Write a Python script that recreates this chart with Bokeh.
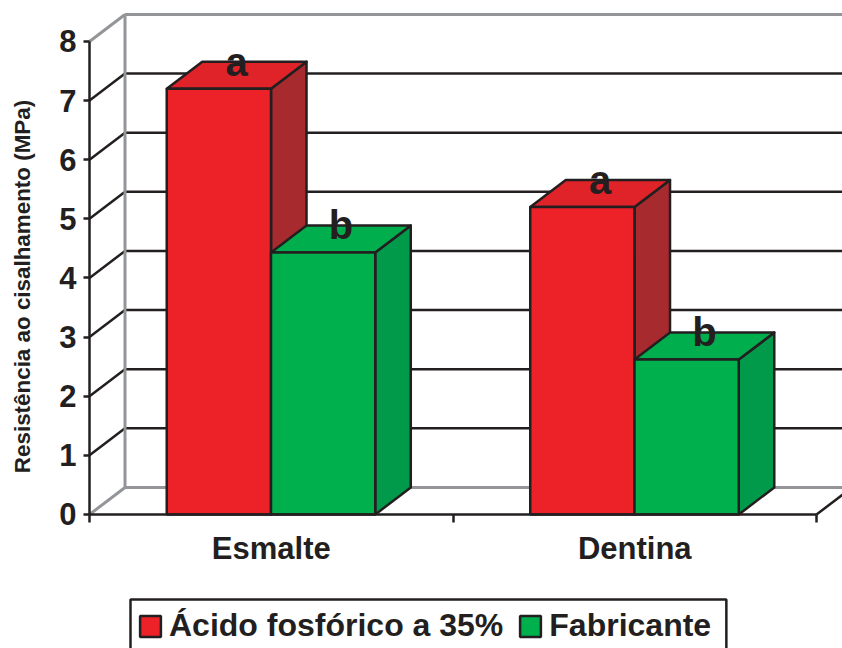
import math
from bokeh.plotting import figure
from bokeh.models import Range1d, FixedTicker, Legend, LegendItem, Label
from bokeh.core.properties import value
from bokeh.embed import file_html
from bokeh.resources import INLINE

categories = ["Esmalte", "Dentina"]
acido = [7.2, 5.2]
fabricante = [4.43, 2.62]
letters_acido = ["a", "a"]
letters_fabricante = ["b", "b"]
y_ticks = [0, 1, 2, 3, 4, 5, 6, 7, 8]
series_names = ["Ácido fosfórico a 35%", "Fabricante"]
y_title = "Resistência ao cisalhamento (MPa)"

FONT = "Liberation Sans"
INK = "#231F20"
WALL = "#939598"
LW = 2.5
DX, DY = 0.0977, 0.457
BAR_W = 0.2868
XMIN = -0.24484
XMAX = 2.0715
YMIN = -2.2664

p = figure(width=842, height=648, output_backend="svg", toolbar_location=None,
           x_range=Range1d(XMIN, XMAX), y_range=Range1d(YMIN, 8.524),
           min_border_left=0, min_border_right=0, min_border_top=10, min_border_bottom=0)
p.frame_width = 842
p.frame_height = 638
p.outline_line_color = None
p.background_fill_color = "white"
p.grid.visible = False

# axes
xa = p.xaxis[0]
xa.fixed_location = 0
xa.ticker = FixedTicker(ticks=[0.5, 1.5], minor_ticks=[0, 1, 2])
xa.major_label_overrides = {0.5: categories[0], 1.5: categories[1]}
xa.bounds = (0, 2)
xa.major_tick_line_color = None
xa.minor_tick_line_color = INK
xa.minor_tick_line_width = LW
xa.minor_tick_out = 8
xa.minor_tick_in = 0
xa.axis_line_color = INK
xa.axis_line_width = LW
xa.major_label_text_font = FONT
xa.major_label_text_font_style = "bold"
xa.major_label_text_font_size = "31px"
xa.major_label_text_color = INK
xa.major_label_standoff = 9
xa.level = "overlay"

ya = p.yaxis[0]
ya.fixed_location = 0
ya.ticker = FixedTicker(ticks=y_ticks, minor_ticks=[])
ya.bounds = (0, 8)
ya.major_tick_line_color = INK
ya.major_tick_line_width = LW
ya.major_tick_out = 6
ya.major_tick_in = 0
ya.axis_line_color = INK
ya.axis_line_width = LW
ya.major_label_text_font = FONT
ya.major_label_text_font_style = "bold"
ya.major_label_text_font_size = "31px"
ya.major_label_text_color = INK
ya.major_label_standoff = 7
ya.level = "overlay"

# walls and grid
inner = y_ticks[1:-1]
p.segment(x0=[DX] * len(inner), y0=[t + DY for t in inner],
          x1=[XMAX] * len(inner), y1=[t + DY for t in inner], line_color=INK, line_width=LW)
p.segment(x0=[0] * len(inner), y0=inner, x1=[DX] * len(inner), y1=[t + DY for t in inner],
          line_color=INK, line_width=LW)
p.segment(x0=[2], y0=[0], x1=[2 + DX], y1=[DY], line_color=INK, line_width=LW)
lo, hi = y_ticks[0], y_ticks[-1]
p.segment(x0=[0, 0, DX, DX], y0=[lo, hi, lo + DY, hi + DY],
          x1=[DX, DX, XMAX, XMAX], y1=[lo + DY, hi + DY, lo + DY, hi + DY],
          line_color=WALL, line_width=3)
p.segment(x0=[DX], y0=[lo + DY], x1=[DX], y1=[hi + DY], line_color=WALL, line_width=3)

# bars
RED, RED_TOP, RED_SIDE = "#ED2229", "#DF2328", "#A72A2F"
GRN, GRN_TOP, GRN_SIDE = "#00B04C", "#00AE4D", "#009A4A"
front_renderers = {}


def bar(xl, v, front, top, side, key):
    xr = xl + BAR_W
    p.patch([xr, xr + DX, xr + DX, xr], [0, DY, v + DY, v], fill_color=side,
            line_color=INK, line_width=LW, line_join="round")
    p.patch([xl, xl + DX, xr + DX, xr], [v, v + DY, v + DY, v], fill_color=top,
            line_color=INK, line_width=LW, line_join="round")
    r = p.quad(left=[xl], right=[xr], bottom=[0], top=[v], fill_color=front,
               line_color=INK, line_width=LW)
    front_renderers.setdefault(key, r)


for i in range(len(categories)):
    c = i + 0.4993
    bar(c - BAR_W, acido[i], RED, RED_TOP, RED_SIDE, 0)
    bar(c, fabricante[i], GRN, GRN_TOP, GRN_SIDE, 1)

# significance letters
lx, ly, lt = [], [], []
for i in range(len(categories)):
    c = i + 0.4993
    lx += [c - BAR_W / 2 + DX / 2, c + BAR_W / 2 + DX / 2]
    ly += [acido[i] + DY / 2 + 0.23, fabricante[i] + DY / 2 + 0.23]
    lt += [letters_acido[i], letters_fabricante[i]]
p.text(x=lx, y=ly, text=lt, text_font=value(FONT), text_font_style="bold",
       text_font_size="40px", text_color=INK, text_align="center", text_baseline="alphabetic")

# legend frame (runs off the bottom of the page, as in the reference)
p.quad(left=[0.1128], right=[1.752], top=[-1.4376], bottom=[YMIN - 1],
       fill_color="white", line_color=INK, line_width=LW)

legend = Legend(items=[LegendItem(label=series_names[0], renderers=[front_renderers[0]]),
                       LegendItem(label=series_names[1], renderers=[front_renderers[1]])],
                orientation="horizontal", location=(137, 4), margin=0, padding=8,
                spacing=14, label_standoff=6, glyph_width=26, glyph_height=26,
                label_text_font=FONT, label_text_font_style="bold", label_text_font_size="32px",
                label_text_color=INK, border_line_color=None,
                background_fill_alpha=0)
p.add_layout(legend, "center")

# y title
p.add_layout(Label(x=22, y=362, x_units="screen", y_units="screen", text=y_title,
                   angle=math.pi / 2, text_font=FONT, text_font_style="bold",
                   text_font_size="22.4px", text_color=INK, text_align="center",
                   text_baseline="middle"))

open("out.html", "w").write(file_html(p, INLINE))
